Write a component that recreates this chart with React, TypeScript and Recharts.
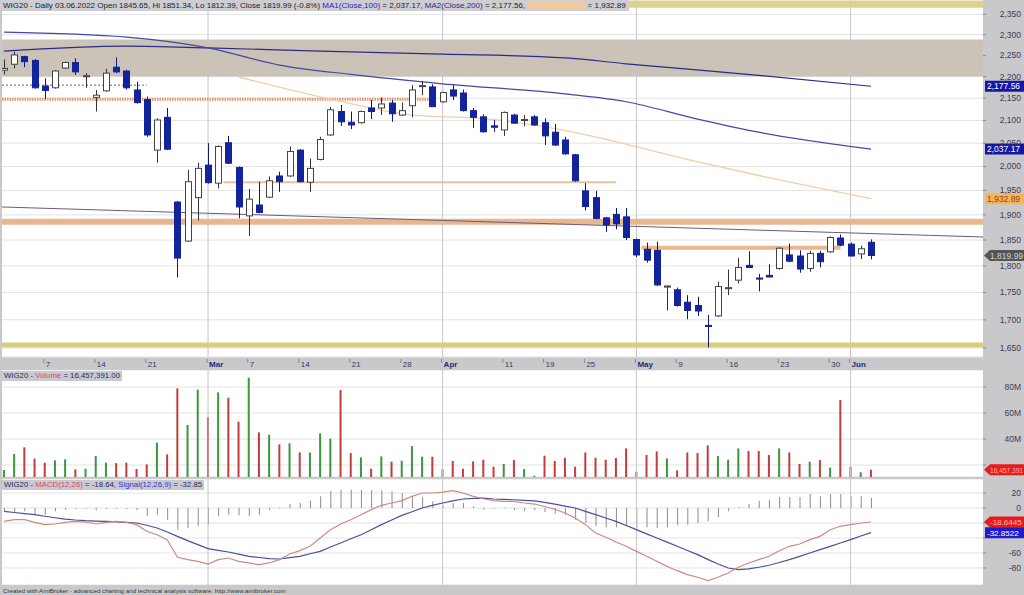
import React from 'react';
import { ComposedChart, Bar, Line, XAxis, YAxis, CartesianGrid, ReferenceLine, ReferenceArea, Cell } from 'recharts';

// WIG20 daily, 01.02.2022 - 03.06.2022 (bar index 0..85)
const opens = [2215, 2229, 2247, 2238, 2178, 2174, 2220, 2233, 2200, 2152, 2167, 2222, 2213, 2169, 2147, 2035, 2107, 1926, 1848, 1935,
  2003, 1965, 2051, 1998, 1898, 1920, 1936, 1980, 1980, 2035, 1967, 2015, 2068, 2120, 2096, 2095, 2128, 2128, 2139, 2112,
  2133, 2177, 2176, 2142, 2169, 2162, 2122, 2108, 2088, 2079, 2112, 2100, 2108, 2095, 2074, 2057, 2025, 1949, 1935, 1894,
  1901, 1896, 1851, 1832, 1830, 1760, 1755, 1732, 1726, 1690, 1707, 1757, 1773, 1801, 1777, 1782, 1795, 1821, 1819, 1795,
  1824, 1827, 1854, 1842, 1823, 1845.65];
const highs = [2240, 2259, 2249, 2241, 2196, 2215, 2235, 2243, 2208, 2169, 2218, 2245, 2216, 2188, 2154, 2105, 2128, 1928, 1993, 2008,
  2050, 2045, 2066, 2000, 1953, 1968, 1979, 1989, 2043, 2037, 2017, 2064, 2130, 2135, 2120, 2122, 2146, 2152, 2146, 2140,
  2180, 2190, 2182, 2165, 2180, 2170, 2128, 2114, 2101, 2120, 2115, 2112, 2112, 2105, 2092, 2064, 2027, 1965, 1949, 1896,
  1914, 1914, 1853, 1845, 1847, 1763, 1759, 1745, 1742, 1709, 1770, 1793, 1815, 1828, 1785, 1803, 1836, 1843, 1830, 1829,
  1829, 1857, 1861, 1845, 1839, 1851.34];
const lows = [2205, 2219, 2222, 2172, 2148, 2172, 2218, 2204, 2174, 2120, 2165, 2208, 2170, 2138, 2064, 2008, 2035, 1778, 1846, 1889,
  1964, 1954, 2005, 1893, 1858, 1903, 1934, 1947, 1978, 1966, 1947, 2013, 2066, 2088, 2081, 2093, 2103, 2112, 2097, 2110,
  2107, 2157, 2130, 2140, 2146, 2120, 2083, 2073, 2075, 2066, 2092, 2087, 2088, 2046, 2044, 2025, 1968, 1909, 1891, 1866,
  1871, 1850, 1817, 1806, 1762, 1717, 1724, 1701, 1707, 1651, 1705, 1745, 1767, 1796, 1752, 1778, 1793, 1807, 1787, 1789,
  1797, 1825, 1838, 1818, 1813, 1812.39];
const closes = [2219, 2251, 2235, 2174, 2168, 2213, 2233, 2211, 2202, 2157, 2208, 2211, 2174, 2140, 2068, 2101, 2037, 1815, 1968, 1996,
  1966, 2043, 2007, 1916, 1932, 1905, 1970, 1968, 2032, 1968, 1996, 2058, 2124, 2097, 2090, 2120, 2120, 2137, 2115, 2122,
  2169, 2179, 2131, 2163, 2155, 2122, 2107, 2075, 2085, 2118, 2094, 2102, 2090, 2066, 2046, 2027, 1970, 1917, 1893, 1880,
  1882, 1855, 1821, 1811, 1764, 1762, 1726, 1717, 1716, 1688, 1761, 1759, 1797, 1797, 1775, 1779, 1834, 1809, 1794, 1824,
  1808, 1855, 1840, 1819, 1833, 1819.99];

// volume in millions, colour as drawn (g = green, r = red)
const volumes = [16.2, 28.5, 33.6, 24.9, 21.8, 23.6, 24.4, 16.7, 17.2, 26.9, 21.8, 21.5, 21.8, 16.9, 20.5, 37.2, 28.2, 79, 50.8, 78,
  56.7, 75.9, 71.8, 53.3, 87.2, 45.1, 43.3, 35.9, 36.7, 29.7, 29.7, 44.4, 40.3, 77.7, 29.2, 25.9, 17.2, 26.7, 22.6, 23.3,
  34.6, 26.4, 26.4, 16.7, 23.1, 17.2, 22.8, 24.1, 18.7, 20.8, 23.8, 16.9, 11.8, 27.2, 23.1, 25.6, 18.7, 29.7, 25.6, 24.1,
  25.4, 32.8, 14.9, 27.7, 30.5, 25.1, 15.9, 29.7, 29.2, 35.1, 26.9, 24.1, 32.8, 30.8, 30.8, 27.7, 32.8, 29.7, 20.8, 22.6,
  23.8, 18, 70, 18.7, 14.4, 16.457391];
const volColors = ('ggrrrggrgg' + 'grrrrgrrgg' + 'rgrrgrgrgr' + 'gggrrgrgrg' + 'ggrgrrrrrg' +
  'rggrrrrrrr' + 'rrrrrgrrrr' + 'gggrrrgrrg' + 'rgrrgr').split('');

const macd = [-17.8, -15.6, -15.6, -19.1, -22.2, -21.3, -19.1, -17.8, -18.7, -21.3, -19.1, -17.8, -19.1, -22.2, -31.1, -35.6, -42.2, -65.8, -68.9, -71.1,
  -74.7, -68.9, -66.7, -71.1, -73.3, -75.6, -73.3, -68.9, -61.3, -56.9, -51.1, -40, -28.9, -21.3, -15.6, -8.9, -2.2, 3.6, 6.7, 9.8,
  15.6, 20, 20, 21.3, 23.1, 20, 15.6, 12.4, 9.8, 8.9, 8.9, 6.7, 5.3, 2, -1.7, -6.7, -13.3, -22.2, -33.3, -39.1,
  -45.3, -51.1, -57.8, -64.4, -71.1, -77.8, -83.6, -88.9, -92.4, -96.9, -92.4, -86.7, -79.1, -73.3, -68.9, -64.4, -56.9, -51.1, -48, -42.2,
  -37.8, -28.9, -24.4, -22.2, -20, -18.64];
const signal = [-4.4, -6, -7.5, -8.9, -11, -13, -14.7, -16, -16.9, -17.4, -17.8, -18.5, -19.2, -20, -23, -26.7, -32, -37.8, -43.5, -48.9,
  -54.2, -56.5, -58.7, -61.5, -64.4, -66, -67.6, -68, -66.2, -64.4, -61, -57.8, -52, -46.7, -41, -35.6, -29, -22.2, -16, -9.8,
  -5, 0, 3.5, 6.7, 9.5, 12, 12.8, 13.3, 12, 11.5, 11, 10.3, 9.5, 7.5, 5.3, 2.6, 0, -4.4, -8.9, -13.3,
  -17.8, -23.3, -28.9, -34.5, -40, -45.5, -51.1, -56.6, -62.2, -68.5, -74.7, -80, -82.2, -81.3, -79, -76.4, -72.7, -68.9, -64.5, -60,
  -55.6, -51.1, -46.7, -42.2, -37.3, -32.85];
const histogram = [-4.4, -6.7, -4.4, -9.8, -8.9, -4.4, -2.2, -1.3, -0.9, -3.1, -1.3, -0.9, -1.3, -3.1, -11.1, -8.9, -15.6, -28.9, -26.7, -24.4,
  -22.2, -11.1, -8.9, -9.8, -11.1, -8.9, -3.1, -0.9, 5.3, 6.7, 9.8, 15.6, 22.2, 24.4, 24.4, 24.4, 23.6, 23.6, 22.2, 20,
  15.6, 14.2, 8.9, 3.6, 6.7, 6.7, 2.2, -2.2, -0.9, -0.9, -3.1, -4.4, -3.1, -5.3, -7.6, -8.9, -15.6, -20, -24.4, -25.8,
  -25.8, -24.4, -26.7, -25.8, -26.7, -25.8, -23.1, -22.2, -20, -17.8, -12.4, -4.4, 0.9, 5.3, 9.8, 11.1, 14.7, 14.7, 14.7, 18.7,
  15.6, 18.7, 18.7, 15.6, 15.6, 13.3];

// moving averages, read at a few bars
const ma100Idx = [0, 12, 20, 27, 34, 43, 55, 61, 68, 74, 85];
const ma100 = [2306, 2294, 2268, 2227, 2205, 2183, 2160, 2142, 2103, 2074, 2037.17];
const ma200Idx = [0, 12, 20, 31, 43, 55, 61, 74, 85];
const ma200 = [2260, 2272, 2268, 2260, 2253, 2244, 2230, 2203, 2177.56];
const ma50Idx = [23, 32, 40, 47, 54, 68, 74, 85];
const ma50 = [2199, 2148, 2112, 2104, 2082, 2010, 1981, 1932.89];

// drawn levels
const zoneLow = 2200;
const zoneHigh = 2288;
const topLevel = 2375;
const bottomLevel = 1655.3;
const bandLevel = 1886;
const dashLevel = 2148;
const dotLevel = 2180;
const resistLevel = 1967;
const supportLevel = 1835;
const trendStart = 1916;
const trendEnd = 1856;

const tickIdx = [4, 9, 14, 20, 24, 29, 34, 39, 43, 49, 53, 57, 62, 66, 71, 76, 81, 83];
const tickLabels = ['7', '14', '21', 'Mar', '7', '14', '21', '28', 'Apr', '11', '19', '25', 'May', '9', '16', '23', '30', 'Jun'];
const monthStarts = [20, 43, 62, 83];
const priceTicks = [1650, 1700, 1750, 1800, 1850, 1900, 1950, 2000, 2050, 2100, 2150, 2200, 2250, 2300, 2350];
const volTicks = [20, 40, 60, 80];
const macdTicks = [20, 0, -20, -40, -60, -80];

const X_DOMAIN: [number, number] = [-0.2, 95.98];
const X0 = X_DOMAIN[0];
const X1 = X_DOMAIN[1];
const M = { top: 0, right: 0, left: 2, bottom: 0 };
const FONT = '"Liberation Sans", Arial, sans-serif';
const AXIS_TXT = '#3a3a58';
const DOWN = '#13239c';
const RED = '#c23c3c';
const GREEN = '#3c963c';
const CANDLE_W = 7;

const rows = opens.map((o, i) => ({
  i,
  o,
  h: highs[i],
  l: lows[i],
  c: closes[i],
  range: [lows[i], highs[i]],
  vol: volumes[i],
  vc: volColors[i],
  macd: macd[i],
  sig: signal[i],
  hist: histogram[i],
}));

const pts = (idx: number[], vals: number[]) => idx.map((i, k) => ({ i, v: vals[k] }));
const seg = (from: number, to: number, p0: number, p1: number = p0) => [{ i: from, v: p0 }, { i: to, v: p1 }];

const Candle = (props: any) => {
  const { x, y, width, height, payload } = props;
  if (x == null || !payload) return null;
  const top = Math.min(y, y + height);
  const hh = Math.abs(height);
  const { o, h, l, c } = payload;
  const span = Math.log(h) - Math.log(l);
  const py = (v: number) => (span > 0 ? top + (hh * (Math.log(h) - Math.log(v))) / span : top);
  const bTop = py(Math.max(o, c));
  const bBot = py(Math.min(o, c));
  const up = c >= o;
  const cx = Math.round(x + width / 2) + 0.5;
  return (
    <g>
      <line x1={cx} x2={cx} y1={top} y2={top + hh} stroke={up ? '#333' : '#0d1a70'} strokeWidth={1} />
      <rect
        x={cx - CANDLE_W / 2 + 0.5}
        y={bTop}
        width={CANDLE_W - 1}
        height={Math.max(bBot - bTop, 1)}
        fill={up ? '#ffffff' : DOWN}
        stroke={up ? '#444' : DOWN}
        strokeWidth={1}
      />
    </g>
  );
};

const DateTick = (props: any) => {
  const { x, payload } = props;
  const k = tickIdx.indexOf(payload.value);
  const lab = tickLabels[k];
  const month = isNaN(Number(lab));
  return (
    <g>
      <line x1={x - 1} x2={x - 1} y1={359} y2={363} stroke="#777" strokeWidth={0.8} />
      <text x={x + 1} y={367} fontSize={8} fontFamily={FONT} fontWeight={month ? 700 : 400} fill={month ? '#1c2a78' : AXIS_TXT}>
        {lab}
      </text>
    </g>
  );
};

const RightTick = (props: any) => {
  const { y, payload, fmt, hidden } = props;
  const covered = hidden && hidden.includes(payload.value);
  return (
    <g>
      <line x1={983} x2={986} y1={y} y2={y} stroke="#777" strokeWidth={0.8} />
      {!covered && (
        <text x={1021} y={y + 3} textAnchor="end" fontSize={8.5} fontFamily={FONT} fill={AXIS_TXT}>
          {fmt(payload.value)}
        </text>
      )}
    </g>
  );
};

const AxisTag = (props: any) => {
  const { viewBox, text, bg, fg, arrow, size = 8.5 } = props;
  if (!viewBox) return null;
  const x0 = viewBox.x + viewBox.width;
  const y = viewBox.y;
  const h = 11;
  const d = arrow
    ? `M${x0 + 1},${y} L${x0 + 7},${y - h / 2} L1024,${y - h / 2} L1024,${y + h / 2} L${x0 + 7},${y + h / 2} Z`
    : `M${x0 + 2},${y - h / 2} L1024,${y - h / 2} L1024,${y + h / 2} L${x0 + 2},${y + h / 2} Z`;
  return (
    <g>
      <path d={d} fill={bg} />
      <text x={arrow ? x0 + 7 : x0 + 4} y={y + 3.2} fontSize={size} fontFamily={FONT} fill={fg}>
        {text}
      </text>
    </g>
  );
};

const priceFmt = (v: number) => v.toLocaleString('en-US');
const volFmt = (v: number) => `${v}M`;
const macdFmt = (v: number) => `${v}`;

const lineProps = { dataKey: 'v', dot: false, activeDot: false, isAnimationActive: false, legendType: 'none' as const };

const titleStyle: React.CSSProperties = {
  position: 'absolute',
  left: 2,
  height: 10,
  background: '#c9c9d6',
  fontSize: 7.8,
  lineHeight: '10px',
  whiteSpace: 'nowrap',
  color: '#2a2a4a',
  padding: '0 2px',
};

export default function App() {
  return (
    <div
      style={{
        position: 'absolute',
        left: 0,
        top: 0,
        width: 1024,
        height: 595,
        background: '#c9c9cb',
        overflow: 'hidden',
        fontFamily: FONT,
      }}
    >
      {/* price pane + date strip */}
      <div style={{ position: 'absolute', left: 0, top: 0 }}>
        <ComposedChart width={1024} height={370} data={rows} margin={M}>
          <CartesianGrid vertical={false} stroke="#e3e3e3" fill="#ffffff" />
          <XAxis
            dataKey="i"
            type="number"
            domain={X_DOMAIN}
            allowDataOverflow
            ticks={tickIdx}
            interval={0}
            tick={<DateTick />}
            tickLine={false}
            axisLine={false}
            tickSize={0}
            height={13}
          />
          <YAxis
            orientation="right"
            width={41}
            scale="log"
            domain={[1634.3, 2386]}
            allowDataOverflow
            ticks={priceTicks}
            interval={0}
            tick={<RightTick fmt={priceFmt} />}
            tickLine={false}
            axisLine={false}
          />
          <ReferenceArea y1={zoneLow} y2={zoneHigh} fill="#cbc3b7" fillOpacity={1} stroke="none" ifOverflow="hidden" />
          {monthStarts.map((m) => (
            <ReferenceLine key={m} x={m} stroke="#c6c6c6" strokeWidth={1} />
          ))}
          <Line {...lineProps} data={seg(X0, X1, topLevel)} stroke="#ddd28a" strokeWidth={7} />
          <Line {...lineProps} data={seg(X0, X1, bottomLevel)} stroke="#d9cd7e" strokeWidth={5} />
          <Line {...lineProps} data={seg(X0, X1, bandLevel)} stroke="#e7b890" strokeWidth={6} />
          <Line {...lineProps} data={seg(X0, 42, dashLevel)} stroke="#e8946c" strokeWidth={3} strokeDasharray="1.5 1" />
          <Line {...lineProps} data={seg(X0, 14, dotLevel)} stroke="#666677" strokeWidth={1} strokeDasharray="2 2" />
          <Line {...lineProps} data={seg(21.5, 60, resistLevel)} stroke="#e8c09c" strokeWidth={2} />
          <Line {...lineProps} data={seg(62.5, 82, supportLevel)} stroke="#e9b68e" strokeWidth={4} />
          <Line {...lineProps} data={seg(X0, X1, trendStart, trendEnd)} stroke="#6c5a7c" strokeWidth={1} />
          <Line {...lineProps} data={pts(ma50Idx, ma50)} type="monotone" stroke="#f1cda8" strokeWidth={1.3} />
          <Line {...lineProps} data={pts(ma200Idx, ma200)} type="monotone" stroke="#2c2c88" strokeWidth={1.2} />
          <Line {...lineProps} data={pts(ma100Idx, ma100)} type="monotone" stroke="#4646a6" strokeWidth={1.2} />
          <Bar dataKey="range" barSize={CANDLE_W} shape={(p: any) => <Candle {...p} />} isAnimationActive={false} zIndex={450} />
          <ReferenceLine y={ma200[ma200.length - 1]} stroke="none" label={<AxisTag text="2,177.56" bg="#1616a2" fg="#ffffff" />} />
          <ReferenceLine y={ma100[ma100.length - 1]} stroke="none" label={<AxisTag text="2,037.17" bg="#1616a2" fg="#ffffff" />} />
          <ReferenceLine y={ma50[ma50.length - 1]} stroke="none" label={<AxisTag text="1,932.89" bg="#f6b35c" fg="#8a4a12" />} />
          <ReferenceLine y={closes[closes.length - 1]} stroke="none" label={<AxisTag text="1,819.99" bg="#555558" fg="#d0d0d0" arrow />} />
        </ComposedChart>
      </div>

      {/* volume pane */}
      <div style={{ position: 'absolute', left: 0, top: 370 }}>
        <ComposedChart width={1024} height={107} data={rows} margin={M}>
          <CartesianGrid vertical={false} stroke="#e3e3e3" fill="#ffffff" />
          <XAxis dataKey="i" type="number" domain={X_DOMAIN} allowDataOverflow hide />
          <YAxis
            orientation="right"
            width={41}
            domain={[10.8, 93.1]}
            allowDataOverflow
            ticks={volTicks}
            interval={0}
            tick={<RightTick fmt={volFmt} hidden={[20]} />}
            tickLine={false}
            axisLine={false}
          />
          {monthStarts.map((m) => (
            <ReferenceLine key={m} x={m} stroke="#c6c6c6" strokeWidth={1} />
          ))}
          <Bar dataKey="vol" barSize={2} isAnimationActive={false}>
            {rows.map((r) => (
              <Cell key={r.i} fill={r.vc === 'g' ? GREEN : RED} />
            ))}
          </Bar>
          <ReferenceLine
            y={volumes[volumes.length - 1]}
            stroke="none"
            label={<AxisTag text="16,457,391" bg="#e41c1c" fg="#ffb4b4" arrow size={6.6} />}
          />
        </ComposedChart>
      </div>

      {/* MACD pane */}
      <div style={{ position: 'absolute', left: 0, top: 479 }}>
        <ComposedChart width={1024} height={106} data={rows} margin={M}>
          <CartesianGrid vertical={false} stroke="#e3e3e3" fill="#ffffff" />
          <XAxis dataKey="i" type="number" domain={X_DOMAIN} allowDataOverflow hide />
          <YAxis
            orientation="right"
            width={41}
            domain={[-102.7, 38.7]}
            allowDataOverflow
            ticks={macdTicks}
            interval={0}
            tick={<RightTick fmt={macdFmt} hidden={[-20, -40]} />}
            tickLine={false}
            axisLine={false}
          />
          {monthStarts.map((m) => (
            <ReferenceLine key={m} x={m} stroke="#c6c6c6" strokeWidth={1} />
          ))}
          <Bar dataKey="hist" barSize={1} fill="#8c8c8c" isAnimationActive={false} />
          <Line dataKey="sig" dot={false} activeDot={false} stroke="#4a4f9c" strokeWidth={1.2} isAnimationActive={false} />
          <Line dataKey="macd" dot={false} activeDot={false} stroke="#cf8a80" strokeWidth={1.2} isAnimationActive={false} />
          <ReferenceLine y={macd[macd.length - 1]} stroke="none" label={<AxisTag text="-18.6445" bg="#e41c1c" fg="#ffb4b4" arrow size={8} />} />
          <ReferenceLine y={signal[signal.length - 1]} stroke="none" label={<AxisTag text="-32.8522" bg="#1c1ccc" fg="#ffffff" size={8} />} />
        </ComposedChart>
      </div>

      {/* pane titles */}
      <div
        style={{
          position: 'absolute',
          left: 0,
          top: 0,
          height: 11,
          width: 626,
          background: '#cdcdd2',
          fontSize: 8,
          lineHeight: '11px',
          whiteSpace: 'nowrap',
          color: '#222',
          paddingLeft: 3,
          overflow: 'hidden',
        }}
      >
        WIG20 - Daily 03.06.2022 Open 1845.65, Hi 1851.34, Lo 1812.39, Close 1819.99 (-0.8%){' '}
        <span style={{ color: '#2424c8' }}>MA1(Close,100)</span> = 2,037.17,{' '}
        <span style={{ color: '#2a2a8a' }}>MA2(Close,200)</span> = 2,177.56,{' '}
        <span style={{ display: 'inline-block', width: 58, height: 9, background: '#efc9a2', verticalAlign: 'middle' }} /> = 1,932.89
      </div>
      <div style={{ ...titleStyle, top: 371 }}>
        WIG20 - <span style={{ color: '#e04848' }}>Volume</span> = 16,457,391.00
      </div>
      <div style={{ ...titleStyle, top: 480 }}>
        WIG20 - <span style={{ color: '#e04848' }}>MACD(12,26)</span> = -18.64, <span style={{ color: '#3434c4' }}>Signal(12,26,9)</span> = -32.85
      </div>
      <div
        style={{
          position: 'absolute',
          left: 3,
          top: 586,
          fontSize: 6.2,
          lineHeight: '9px',
          whiteSpace: 'nowrap',
          color: '#333',
        }}
      >
        Created with AmiBroker - advanced charting and technical analysis software. http://www.amibroker.com
      </div>
    </div>
  );
}
